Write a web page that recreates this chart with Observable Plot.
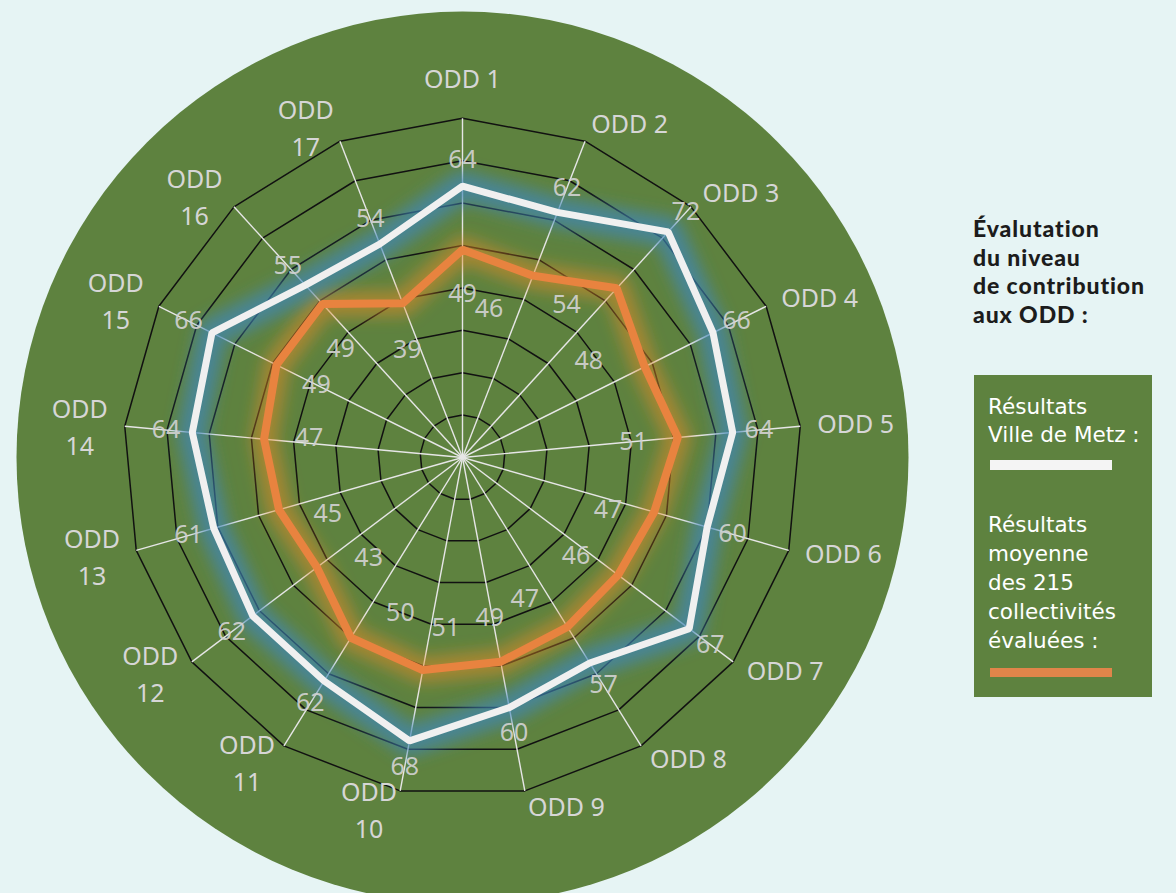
<!DOCTYPE html>
<html>
<head>
<meta charset="utf-8">
<script src="https://cdn.jsdelivr.net/npm/d3@7"></script>
<script src="https://cdn.jsdelivr.net/npm/@observablehq/plot@0.6"></script>
<style>
  html, body { margin: 0; padding: 0; background: #e6f4f4; }
  #wrap { position: relative; width: 1176px; height: 893px; overflow: hidden; background: #e6f4f4; }
  #chart { position: absolute; left: 0; top: 0; }
  #legend-title { position: absolute; left: 973px; top: 214px; font-family: Lato, sans-serif; font-weight: 900; font-size: 23px; letter-spacing: 0.9px; line-height: 28.7px; color: #1c1c1c; white-space: nowrap; }
  #legend-box { position: absolute; left: 974px; top: 375px; width: 178px; height: 322px; background: #5e823f; }
  .lg-text { position: absolute; left: 14px; font-family: "DejaVu Sans", sans-serif; font-size: 21.5px; color: #ffffff; white-space: nowrap; }
  .lg-bar { position: absolute; left: 16px; width: 122px; height: 9.5px; }
</style>
</head>
<body>
<div id="wrap">
  <div id="chart"></div>
  <div id="legend-title">Évalutation<br>du niveau<br>de contribution<br>aux ODD :</div>
  <div id="legend-box">
    <div class="lg-text" style="top:18px;line-height:27.5px">Résultats<br>Ville de Metz :</div>
    <div class="lg-bar" style="top:85px;background:#f4f4f4"></div>
    <div class="lg-text" style="top:135px;line-height:29px">Résultats<br>moyenne<br>des 215<br>collectivités<br>évaluées :</div>
    <div class="lg-bar" style="top:292.7px;background:#e0854a"></div>
  </div>
</div>
<script>
// ---- data ----
const categories = ["ODD 1","ODD 2","ODD 3","ODD 4","ODD 5","ODD 6","ODD 7","ODD 8","ODD 9",
                    "ODD 10","ODD 11","ODD 12","ODD 13","ODD 14","ODD 15","ODD 16","ODD 17"];
const metz    = [64, 62, 72, 66, 64, 60, 67, 57, 60, 68, 62, 62, 61, 64, 66, 55, 54];
const moyenne = [49, 46, 54, 48, 51, 47, 46, 47, 49, 51, 50, 43, 45, 47, 49, 49, 39];
const ringLevels = [10, 20, 30, 40, 50, 60, 70, 80];

// ---- layout ----
const W = 1176, H = 893, cx = 462, cy = 457, k = 4.24;
const maxV = 80;
const green = "#5e823f";
const N = categories.length;
const ang = i => i * 2 * Math.PI / N;
const px = (v, i) => v * Math.sin(ang(i));
const py = (v, i) => v * Math.cos(ang(i));
// small angular nudges (degrees) of the average-value labels, as placed in the original
const moyNudge = [0, -11, -8, -11, 0, 4, 4, 8, 1, -5, -10, -10, -7, 2, 0, -6, -6];

const rings = ringLevels.flatMap(v => categories.map((c, i) => ({v, x: px(v, i), y: py(v, i)})));
const spokes = categories.map((c, i) => ({x2: px(maxV, i), y2: py(maxV, i)}));
const metzPts = metz.map((v, i) => ({x: px(v, i), y: py(v, i)}));
const moyPts = moyenne.map((v, i) => ({x: px(v, i), y: py(v, i)}));
const metzLbl = metz.map((v, i) => ({x: px(v + 6.2, i), y: py(v + 6.2, i), t: String(v)}));
const moyLbl = moyenne.map((v, i) => {
  const a = ang(i) + moyNudge[i] * Math.PI / 180, r = v - 10.5;
  return {x: r * Math.sin(a), y: r * Math.cos(a), t: String(v)};
});
const catPts = categories.map((c, i) => ({x: px(84, i), y: py(84, i), i, t: i >= 9 ? c.replace(" ", "\n") : c}));

const fontFam = "'Noto Sans', 'Open Sans', sans-serif";

const svg = Plot.plot({
  width: W, height: H, margin: 0,
  x: {domain: [-cx / k, (W - cx) / k], range: [0, W], axis: null},
  y: {domain: [-(H - cy) / k, cy / k], range: [H, 0], axis: null},
  style: {background: "transparent", overflow: "hidden"},
  marks: [
    Plot.dot([{x: 0, y: 0}], {x: "x", y: "y", r: 446, fill: green, stroke: "none"}),
    Plot.line(rings, {x: "x", y: "y", z: "v", curve: "linear-closed", stroke: "#111", strokeWidth: 1.5}),
    Plot.link(spokes, {x1: 0, y1: 0, x2: "x2", y2: "y2", stroke: "#e6e6e6", strokeWidth: 1.4}),
    // glows
    Plot.line(moyPts, {x: "x", y: "y", curve: "linear-closed", stroke: "#e08a2c", strokeOpacity: 0.55, strokeWidth: 26, ariaDescription: "glow"}),
    Plot.line(metzPts, {x: "x", y: "y", curve: "linear-closed", stroke: "#3f86b8", strokeOpacity: 0.7, strokeWidth: 30, ariaDescription: "glow"}),
    // main lines
    Plot.line(moyPts, {x: "x", y: "y", curve: "linear-closed", stroke: "#e8833f", strokeWidth: 8, strokeLinejoin: "miter"}),
    Plot.line(metzPts, {x: "x", y: "y", curve: "linear-closed", stroke: "#f0f0f0", strokeWidth: 7, strokeLinejoin: "miter"}),
    // value labels
    Plot.text(metzLbl, {x: "x", y: "y", text: "t", fill: "#d2d2d2", fillOpacity: 0.92, fontSize: 25, fontFamily: fontFam}),
    Plot.text(moyLbl, {x: "x", y: "y", text: "t", fill: "#d2d2d2", fillOpacity: 0.92, fontSize: 25, fontFamily: fontFam}),
    // category labels
    Plot.text(catPts.filter(d => d.i === 0), {x: "x", y: "y", text: "t", dy: -21, textAnchor: "middle", fill: "#d6d6d6", fontSize: 25, fontFamily: fontFam}),
    Plot.text(catPts.filter(d => d.i > 0 && d.i < 9), {x: "x", y: "y", text: "t", textAnchor: "start", fill: "#d6d6d6", fontSize: 25, fontFamily: fontFam}),
    Plot.text(catPts.filter(d => d.i >= 9), {x: "x", y: "y", text: "t", dx: -28, textAnchor: "middle", lineHeight: 1.48, fill: "#d6d6d6", fontSize: 25, fontFamily: fontFam})
  ]
});

const s = d3.select(svg);
const defs = s.insert("defs", ":first-child");
const f = defs.append("filter").attr("id", "glowBlur")
  .attr("x", "-20%").attr("y", "-20%").attr("width", "140%").attr("height", "140%");
f.append("feGaussianBlur").attr("stdDeviation", 7.5);
s.selectAll('g[aria-description="glow"]').attr("filter", "url(#glowBlur)");

document.getElementById("chart").appendChild(svg);
</script>
</body>
</html>
